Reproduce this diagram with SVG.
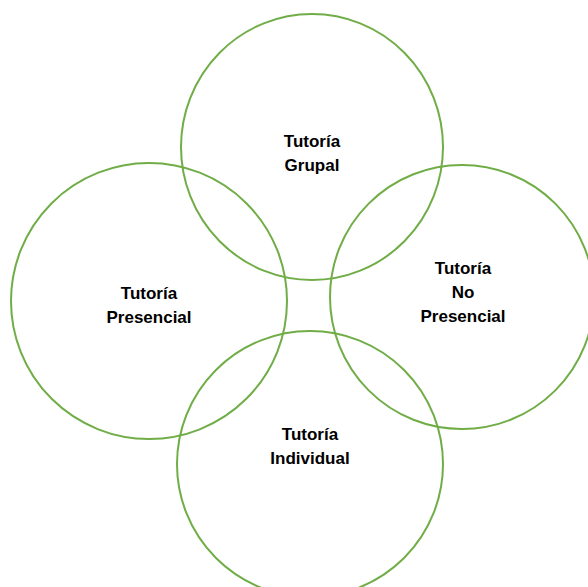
<svg xmlns="http://www.w3.org/2000/svg" width="588" height="587" viewBox="0 0 588 587">
<style>
.c{fill:none;stroke:#70ad47;stroke-width:2}
.t{font-family:"Liberation Sans","Noto Sans",sans-serif;font-weight:bold;font-size:17px;fill:#000;text-anchor:middle}
</style>
<rect width="588" height="587" fill="#fff"/>
<g id="grupal">
<ellipse class="c" cx="312" cy="147" rx="131" ry="133"/>
<text class="t" x="312" y="147">Tutoría</text>
<text class="t" x="312" y="171">Grupal</text>
</g>
<g id="presencial">
<circle class="c" cx="149" cy="301" r="138"/>
<text class="t" x="149" y="299">Tutoría</text>
<text class="t" x="149" y="323">Presencial</text>
</g>
<g id="nopresencial">
<circle class="c" cx="462" cy="297" r="132"/>
<text class="t" x="463" y="274">Tutoría</text>
<text class="t" x="463" y="298">No</text>
<text class="t" x="463" y="322">Presencial</text>
</g>
<g id="individual">
<circle class="c" cx="310" cy="464" r="133"/>
<text class="t" x="310" y="440">Tutoría</text>
<text class="t" x="310" y="464">Individual</text>
</g>
</svg>
